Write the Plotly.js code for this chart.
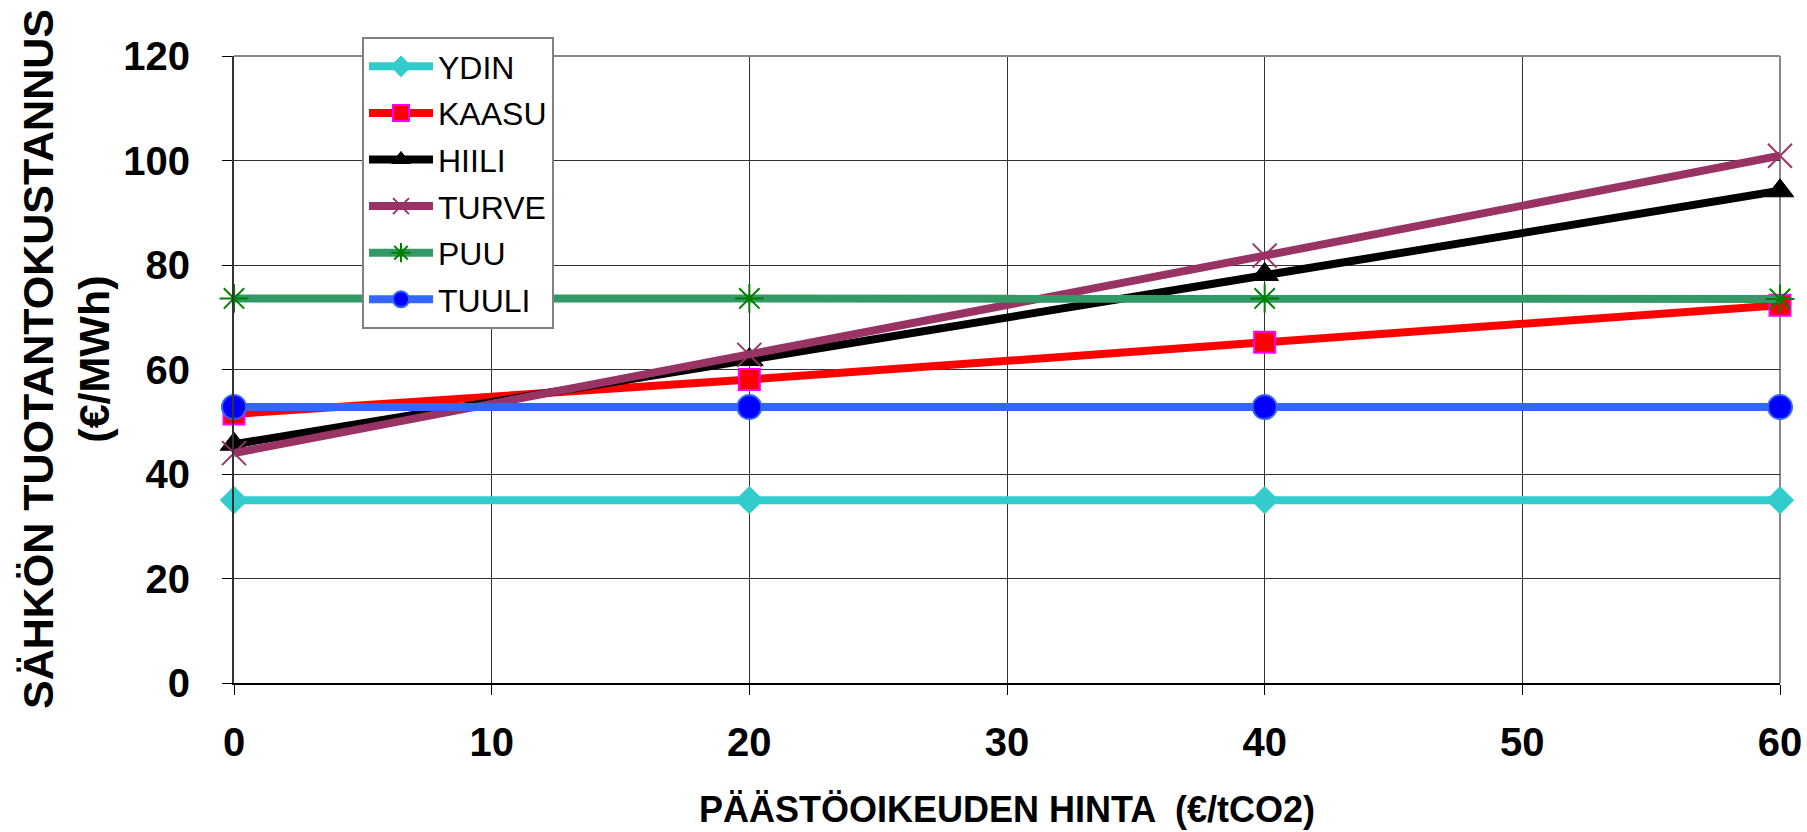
<!DOCTYPE html>
<html>
<head>
<meta charset="utf-8">
<script src="https://cdn.plot.ly/plotly-3.0.1.min.js"></script>
<style>
  html, body { margin: 0; padding: 0; background: #fff; }
  #chart { width: 1807px; height: 832px; }
</style>
</head>
<body>
<div id="chart"></div>
<script>
// Data
const xValues = [0, 20, 40, 60];          // PÄÄSTÖOIKEUDEN HINTA (€/tCO2)
const seriesNames = ["YDIN", "KAASU", "HIILI", "TURVE", "PUU", "TUULI"];
const ydin  = [35.0, 35.0, 35.0, 35.0];
const kaasu = [51.5, 58.1, 65.2, 72.3];
const hiili = [45.7, 61.9, 78.2, 94.2];
const turve = [44.0, 62.8, 81.8, 100.9];
const puu   = [73.6, 73.6, 73.6, 73.5];
const tuuli = [52.8, 52.8, 52.8, 52.8];
const xTickVals = [0, 10, 20, 30, 40, 50, 60];
const yTickVals = [0, 20, 40, 60, 80, 100, 120];

const FONT = "Liberation Sans, Arial, sans-serif";

function mk(name, y, lineColor, marker, gi) {
  return {
    type: "scatter", mode: "lines+markers", name: name,
    x: xValues, y: y, cliponaxis: false,
    legendgroup: "g" + gi,
    line: { color: lineColor, width: 8 },
    marker: marker
  };
}

const traces = [
  mk(seriesNames[0], ydin, "#33CCCC",
     { symbol: "diamond", size: 21, color: "#33CCCC", line: { color: "#33CCCC", width: 1 } }, 0),
  mk(seriesNames[1], kaasu, "#FF0000",
     { symbol: "square", size: 21, color: "#FF0000", line: { color: "#FF00FF", width: 2 } }, 1),
  mk(seriesNames[2], hiili, "#000000",
     { symbol: "triangle-up", size: 24, color: "#000000", line: { color: "#000000", width: 1 } }, 2),
  mk(seriesNames[3], turve, "#993366",
     { symbol: "x-thin", size: 24, color: "#993366", line: { color: "#993366", width: 2 } }, 3),
  mk(seriesNames[4], puu, "#339966",
     { symbol: "asterisk", size: 24, color: "#008000", line: { color: "#008000", width: 2 } }, 4),
  mk(seriesNames[5], tuuli, "#3366FF",
     { symbol: "circle", size: 24, color: "#0000FF", line: { color: "#3366FF", width: 2 } }, 5)
];

const layout = {
  width: 1807, height: 832,
  margin: { l: 234, r: 27, t: 56, b: 149 },
  paper_bgcolor: "#ffffff", plot_bgcolor: "#ffffff",
  font: { family: FONT, color: "#000" },
  showlegend: true,
  legend: {
    x: (362 - 234) / 1546, y: (683 - 37) / 627, xanchor: "left", yanchor: "top",
    bgcolor: "#ffffff", bordercolor: "#808080", borderwidth: 2,
    font: { family: FONT, size: 32, color: "#000" },
    tracegroupgap: 2, itemwidth: 64
  },
  xaxis: {
    range: [0, 60], tickvals: xTickVals, ticktext: xTickVals.map(String),
    showgrid: true, gridcolor: "#333333", gridwidth: 1,
    showline: true, linecolor: "#000", linewidth: 2,
    ticks: "outside", ticklen: 10, tickcolor: "#000", tickwidth: 1,
    tickfont: { family: FONT, size: 40, color: "#000", weight: "bold" },
    ticklabelstandoff: 13,
    zeroline: false, fixedrange: true,
    title: { text: "PÄÄSTÖOIKEUDEN HINTA  (€/tCO2)", standoff: 34,
             font: { family: FONT, size: 36, color: "#000", weight: "bold" } }
  },
  yaxis: {
    range: [0, 120], tickvals: yTickVals, ticktext: yTickVals.map(String),
    showgrid: true, gridcolor: "#333333", gridwidth: 1,
    showline: true, linecolor: "#333", linewidth: 2,
    ticks: "outside", ticklen: 10, tickcolor: "#000", tickwidth: 1,
    tickfont: { family: FONT, size: 40, color: "#000", weight: "bold" },
    ticklabelstandoff: 24,
    zeroline: false, fixedrange: true
  },
  shapes: [
    { type: "line", xref: "paper", yref: "paper", x0: 0, x1: 1, y0: 1, y1: 1,
      line: { color: "#888888", width: 2 }, layer: "above" },
    { type: "line", xref: "paper", yref: "paper", x0: 1, x1: 1, y0: 0, y1: 1,
      line: { color: "#888888", width: 2 }, layer: "below" }
  ],
  annotations: [
    { text: "SÄHKÖN TUOTANTOKUSTANNUS<br>(€/MWh)", textangle: -90,
      xref: "paper", yref: "paper", x: 0, y: (683 - 359) / 627,
      xanchor: "center", yanchor: "middle", xshift: -168, showarrow: false,
      font: { family: FONT, size: 43, color: "#000", weight: "bold" } }
  ]
};

Plotly.newPlot("chart", traces, layout, { staticPlot: true, displayModeBar: false });
</script>
</body>
</html>
